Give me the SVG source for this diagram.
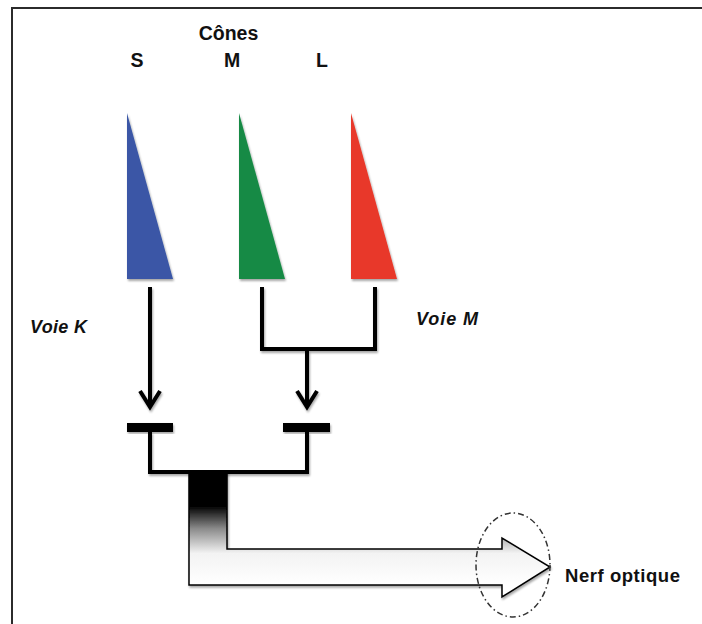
<svg xmlns="http://www.w3.org/2000/svg" width="702" height="624" viewBox="0 0 702 624">
<style>
.lbl{font-family:"Liberation Sans",Arial,sans-serif;font-weight:bold;fill:#111}
.it{font-style:italic}
.wire{fill:none;stroke:#000;stroke-width:4;stroke-linejoin:miter;stroke-linecap:butt}
.bar{fill:#000}
</style>
<defs>
<marker id="chev" markerUnits="userSpaceOnUse" markerWidth="40" markerHeight="40" viewBox="-20 -20 40 40" refX="0" refY="0" orient="auto" overflow="visible">
<path d="M-16,-10 L0,0 L-16,10" fill="none" stroke="#000" stroke-width="4" stroke-linejoin="miter"/>
</marker>
<linearGradient id="grad" gradientUnits="userSpaceOnUse" x1="0" y1="472" x2="0" y2="585">
<stop offset="0" stop-color="#000"/>
<stop offset="0.3" stop-color="#000"/>
<stop offset="0.5" stop-color="#8a8a8a"/>
<stop offset="0.72" stop-color="#f3f3f3"/>
<stop offset="1" stop-color="#ffffff"/>
</linearGradient>
<filter id="sh" x="-20%" y="-20%" width="140%" height="140%">
<feGaussianBlur in="SourceAlpha" stdDeviation="1.2"/>
<feOffset dx="1" dy="1.5" result="b"/>
<feComponentTransfer><feFuncA type="linear" slope="0.35"/></feComponentTransfer>
<feMerge><feMergeNode/><feMergeNode in="SourceGraphic"/></feMerge>
</filter>
</defs>
<rect width="702" height="624" fill="#fff"/>
<g id="frame">
<path d="M12,624 L12,8 L702,8" fill="none" stroke="#2b2b2b" stroke-width="2"/>
</g>
<g id="title">
<text class="lbl" x="228.5" y="40" font-size="19.5" text-anchor="middle">Cônes</text>
</g>
<g id="cone-S">
<polygon points="127,113 127,279 173,279" fill="#3a57a6" filter="url(#sh)"/>
<text class="lbl" x="137" y="67" font-size="19.5" text-anchor="middle">S</text>
</g>
<g id="cone-M">
<polygon points="239,113 239,279 285,279" fill="#178a45" filter="url(#sh)"/>
<text class="lbl" x="232" y="67" font-size="19.5" text-anchor="middle">M</text>
</g>
<g id="cone-L">
<polygon points="351,113 351,279 397,279" fill="#e8392a" filter="url(#sh)"/>
<text class="lbl" x="322" y="67" font-size="19.5" text-anchor="middle">L</text>
</g>
<g id="voie-K">
<text class="lbl it" x="30" y="333" font-size="18" textLength="57">Voie K</text>
</g>
<g id="voie-M">
<text class="lbl it" x="416" y="325" font-size="18" textLength="62">Voie M</text>
</g>
<g id="bipolar-K">
<rect class="bar" x="127" y="423" width="46" height="9" filter="url(#sh)"/>
</g>
<g id="bipolar-M">
<rect class="bar" x="283" y="423" width="47" height="9" filter="url(#sh)"/>
</g>
<g id="connectors" filter="url(#sh)">
<line class="wire" x1="150" y1="287" x2="150" y2="407" marker-end="url(#chev)"/>
<polyline class="wire" points="262,287 262,349 375,349 375,287"/>
<line class="wire" x1="307" y1="349" x2="307" y2="407" marker-end="url(#chev)"/>
<polyline class="wire" points="150,432 150,472 307,472 307,432"/>
</g>
<g id="nerf-optique">
<path d="M189,472 L227,472 L227,549 L502,549 L502,538 L550,567 L502,597 L502,585 L189,585 Z" fill="url(#grad)" stroke="#000" stroke-width="1.5" stroke-linejoin="miter" filter="url(#sh)"/>
<ellipse cx="513" cy="565" rx="37" ry="52" fill="none" stroke="#333" stroke-width="1.5" stroke-dasharray="6 3 1.5 3"/>
<text class="lbl" x="565" y="582" font-size="18.5" textLength="115">Nerf optique</text>
</g>
</svg>
